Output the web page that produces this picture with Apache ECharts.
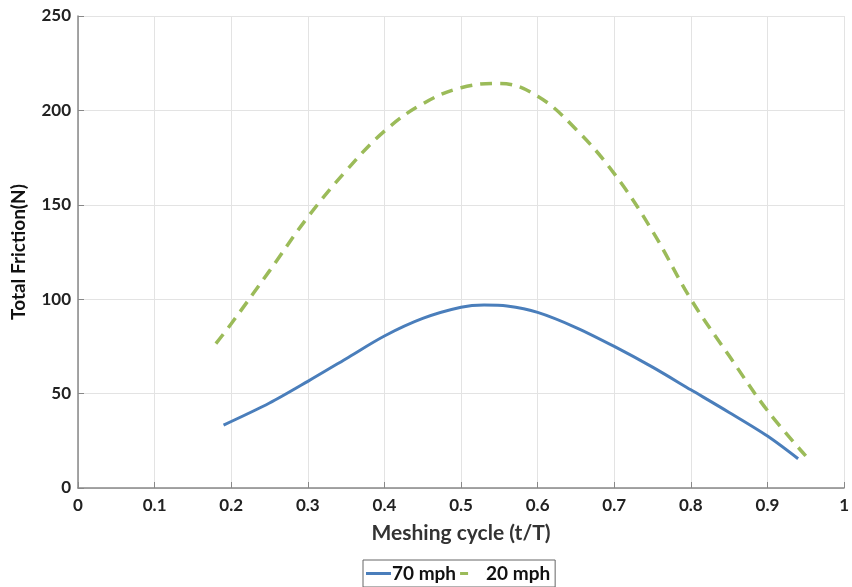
<!DOCTYPE html>
<html>
<head>
<meta charset="utf-8">
<script src="https://cdn.jsdelivr.net/npm/echarts@6/dist/echarts.min.js"></script>
<style>html,body{margin:0;padding:0;background:#fff}#c{width:852px;height:587px}</style>
</head>
<body>
<div id="c"></div>
<script>
const seriesNames = ['70 mph', '20 mph'];
const x70 = [0.19, 0.25, 0.30, 0.35, 0.40, 0.45, 0.50, 0.53, 0.56, 0.60, 0.65, 0.70, 0.75, 0.80, 0.85, 0.90, 0.94];
const y70 = [33.3, 45, 56.5, 68.5, 80.5, 89.8, 95.7, 96.9, 96.4, 93, 85, 75, 64, 52, 40, 27.5, 15.5];
const x20 = [0.18, 0.20, 0.25, 0.30, 0.35, 0.40, 0.45, 0.50, 0.55, 0.60, 0.65, 0.70, 0.75, 0.80, 0.85, 0.90, 0.95];
const y20 = [76.5, 87, 115, 143.5, 168, 189, 203.5, 212, 214.3, 207.5, 190, 166.5, 136, 100, 70, 41, 17];
const xTicks = [0, 0.1, 0.2, 0.3, 0.4, 0.5, 0.6, 0.7, 0.8, 0.9, 1];
const yTicks = [0, 50, 100, 150, 200, 250];

const font = 'Lato, "Open Sans", sans-serif';
const chart = echarts.init(document.getElementById('c'));
chart.setOption({
  animation: false,
  backgroundColor: '#fff',
  grid: {left: 78, right: 7, top: 16, bottom: 99},
  xAxis: {
    type: 'value', min: 0, max: 1, interval: 0.1,
    name: 'Meshing cycle (t/T)', nameLocation: 'middle', nameGap: 35,
    nameTextStyle: {fontFamily: font, fontSize: 21, fontWeight: 'bold', color: '#333'},
    axisLine: {lineStyle: {color: '#888', width: 1.5}},
    axisTick: {inside: true, length: 6, lineStyle: {color: '#888'}},
    axisLabel: {fontFamily: font, fontSize: 17, fontWeight: 'bold', color: '#222', margin: 9,
      formatter: v => { const t = xTicks.find(a => Math.abs(a - v) < 1e-9); return t === undefined ? '' : String(t); }},
    splitLine: {show: true, lineStyle: {color: '#e3e3e3'}}
  },
  yAxis: {
    type: 'value', min: 0, max: 250, interval: 50,
    name: 'Total Friction(N)', nameLocation: 'middle', nameGap: 50,
    nameTextStyle: {fontFamily: font, fontSize: 19, fontWeight: 'bold', color: '#111'},
    axisLine: {show: true, lineStyle: {color: '#888', width: 1.5}},
    axisTick: {show: true, inside: true, length: 6, lineStyle: {color: '#888'}},
    axisLabel: {fontFamily: font, fontSize: 17, fontWeight: 'bold', color: '#222', margin: 7,
      formatter: v => yTicks.includes(v) ? String(v) : ''},
    splitLine: {show: true, lineStyle: {color: '#e3e3e3'}}
  },
  legend: {
    bottom: 0, left: 363,
    data: [
      {name: seriesNames[0], icon: 'rect'},
      {name: seriesNames[1], icon: 'path://M0,0h8v3h-8z M24.9,0h0.1v3h-0.1z'}
    ],
    borderColor: '#666', borderWidth: 1, padding: [4, 5, 4, 3], itemGap: 4,
    itemWidth: 25, itemHeight: 3,
    textStyle: {fontFamily: font, fontSize: 19, fontWeight: 'bold', color: '#111', padding: [0, 0, 0, -4]}
  },
  series: [
    {name: seriesNames[0], type: 'line', smooth: 0.3, symbol: 'none',
     data: x70.map((x, i) => [x, y70[i]]),
     lineStyle: {color: '#4a7ebb', width: 3}, itemStyle: {color: '#4a7ebb'}},
    {name: seriesNames[1], type: 'line', smooth: 0.4, symbol: 'none',
     data: x20.map((x, i) => [x, y20[i]]),
     lineStyle: {color: '#9bbb59', width: 3.5, type: [12, 8]}, itemStyle: {color: '#9bbb59'}}
  ]
});
</script>
</body>
</html>
